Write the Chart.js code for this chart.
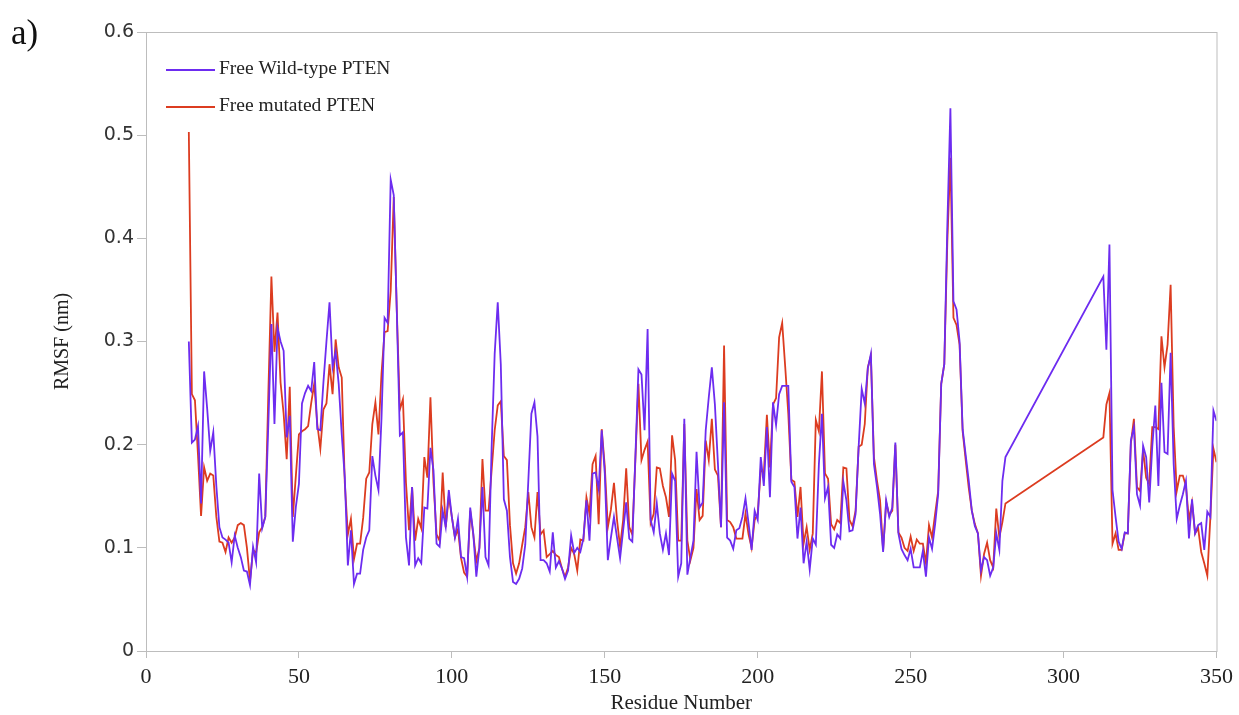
<!DOCTYPE html>
<html>
<head>
<meta charset="utf-8">
<title>RMSF per residue</title>
<script src="https://cdn.jsdelivr.net/npm/chart.js@4.4.1/dist/chart.umd.min.js"></script>
<style>
    html, body { margin: 0; padding: 0; background: #ffffff; }
    #rmsf-chart { display: block; }
</style>
</head>
<body>
<canvas id="rmsf-chart" width="1239" height="715"></canvas>
<script>
const CHART_ID = "rmsf-chart";

// Residues 282-312 have no coordinates, so the trace jumps from 281 to 313.
const FIRST_SEGMENT = [14, 281];
const SECOND_SEGMENT = [313, 350];

const X_TICKS = [0, 50, 100, 150, 200, 250, 300, 350];
const Y_TICKS = [0, 0.1, 0.2, 0.3, 0.4, 0.5, 0.6];

const SERIES_LABELS = ["Free Wild-type PTEN", "Free mutated PTEN"];
const SERIES_COLORS = ["#6d2cf0", "#dc3c20"];

// RMSF (nm), one value per residue in the order of the residue list
const wildType = [
    0.300, 0.202, 0.205, 0.218, 0.143, 0.271, 0.235, 0.194, 0.212, 0.160,
    0.120, 0.110, 0.108, 0.105, 0.086, 0.112, 0.100, 0.091, 0.078, 0.077,
    0.064, 0.101, 0.086, 0.172, 0.119, 0.130, 0.220, 0.317, 0.220, 0.313,
    0.300, 0.291, 0.207, 0.228, 0.106, 0.140, 0.162, 0.240, 0.250, 0.257,
    0.252, 0.280, 0.215, 0.214, 0.260, 0.300, 0.338, 0.275, 0.290, 0.259,
    0.210, 0.168, 0.083, 0.117, 0.065, 0.075, 0.075, 0.098, 0.110, 0.117,
    0.189, 0.170, 0.156, 0.226, 0.323, 0.318, 0.457, 0.442, 0.329, 0.209,
    0.212, 0.110, 0.083, 0.159, 0.083, 0.090, 0.085, 0.139, 0.138, 0.197,
    0.175, 0.104, 0.101, 0.136, 0.120, 0.156, 0.130, 0.110, 0.128, 0.091,
    0.090, 0.072, 0.139, 0.114, 0.072, 0.100, 0.159, 0.091, 0.083, 0.197,
    0.288, 0.338, 0.278, 0.147, 0.136, 0.091, 0.067, 0.065, 0.070, 0.080,
    0.103, 0.165, 0.230, 0.241, 0.208, 0.088, 0.088, 0.085, 0.077, 0.115,
    0.081, 0.087, 0.080, 0.070, 0.078, 0.112, 0.095, 0.100, 0.096, 0.109,
    0.146, 0.107, 0.172, 0.173, 0.157, 0.214, 0.172, 0.088, 0.110, 0.130,
    0.110, 0.090, 0.117, 0.144, 0.109, 0.106, 0.188, 0.273, 0.268, 0.214,
    0.312, 0.127, 0.115, 0.143, 0.114, 0.098, 0.114, 0.093, 0.172, 0.165,
    0.072, 0.085, 0.225, 0.074, 0.091, 0.107, 0.193, 0.139, 0.144, 0.214,
    0.246, 0.275, 0.239, 0.181, 0.120, 0.241, 0.110, 0.107, 0.099, 0.117,
    0.119, 0.130, 0.148, 0.124, 0.098, 0.136, 0.127, 0.188, 0.160, 0.217,
    0.149, 0.241, 0.219, 0.249, 0.257, 0.257, 0.257, 0.164, 0.159, 0.109,
    0.139, 0.085, 0.106, 0.079, 0.109, 0.103, 0.181, 0.230, 0.148, 0.159,
    0.103, 0.100, 0.113, 0.109, 0.164, 0.146, 0.116, 0.117, 0.133, 0.198,
    0.254, 0.240, 0.274, 0.288, 0.181, 0.159, 0.133, 0.096, 0.146, 0.130,
    0.139, 0.202, 0.114, 0.099, 0.093, 0.088, 0.099, 0.081, 0.081, 0.081,
    0.097, 0.072, 0.110, 0.099, 0.123, 0.152, 0.259, 0.278, 0.413, 0.526,
    0.339, 0.331, 0.300, 0.215, 0.190, 0.165, 0.136, 0.121, 0.114, 0.078,
    0.091, 0.088, 0.073, 0.081, 0.114, 0.098, 0.165, 0.188,
    0.363, 0.292, 0.394, 0.156, 0.130, 0.106, 0.099, 0.115, 0.114, 0.204,
    0.217, 0.152, 0.141, 0.199, 0.188, 0.144, 0.198, 0.238, 0.160, 0.260,
    0.193, 0.191, 0.289, 0.181, 0.128, 0.141, 0.152, 0.165, 0.109, 0.147,
    0.114, 0.122, 0.124, 0.098, 0.135, 0.130, 0.233, 0.223,
];

const mutated = [
    0.503, 0.249, 0.243, 0.190, 0.131, 0.178, 0.165, 0.172, 0.170, 0.130,
    0.106, 0.105, 0.096, 0.110, 0.105, 0.110, 0.122, 0.124, 0.122, 0.100,
    0.068, 0.098, 0.095, 0.115, 0.120, 0.130, 0.250, 0.363, 0.290, 0.328,
    0.260, 0.230, 0.186, 0.256, 0.130, 0.170, 0.210, 0.213, 0.215, 0.218,
    0.240, 0.259, 0.220, 0.196, 0.234, 0.240, 0.278, 0.249, 0.302, 0.275,
    0.265, 0.163, 0.113, 0.128, 0.089, 0.104, 0.104, 0.129, 0.167, 0.173,
    0.220, 0.241, 0.210, 0.269, 0.309, 0.310, 0.349, 0.440, 0.330, 0.234,
    0.244, 0.163, 0.117, 0.159, 0.107, 0.128, 0.119, 0.188, 0.168, 0.246,
    0.163, 0.113, 0.107, 0.173, 0.120, 0.150, 0.130, 0.110, 0.118, 0.090,
    0.076, 0.072, 0.136, 0.113, 0.087, 0.100, 0.186, 0.136, 0.136, 0.175,
    0.214, 0.238, 0.242, 0.189, 0.185, 0.122, 0.085, 0.075, 0.085, 0.103,
    0.120, 0.154, 0.120, 0.110, 0.154, 0.113, 0.117, 0.091, 0.094, 0.097,
    0.093, 0.091, 0.080, 0.072, 0.081, 0.100, 0.094, 0.078, 0.108, 0.107,
    0.149, 0.133, 0.181, 0.189, 0.123, 0.215, 0.179, 0.120, 0.137, 0.163,
    0.127, 0.101, 0.127, 0.177, 0.120, 0.113, 0.185, 0.259, 0.185, 0.195,
    0.203, 0.124, 0.133, 0.178, 0.177, 0.160, 0.149, 0.130, 0.209, 0.185,
    0.107, 0.107, 0.220, 0.107, 0.088, 0.100, 0.157, 0.127, 0.131, 0.204,
    0.185, 0.225, 0.176, 0.170, 0.120, 0.296, 0.127, 0.125, 0.120, 0.109,
    0.109, 0.109, 0.133, 0.113, 0.100, 0.127, 0.133, 0.176, 0.172, 0.229,
    0.178, 0.239, 0.245, 0.304, 0.318, 0.275, 0.230, 0.166, 0.164, 0.130,
    0.159, 0.104, 0.120, 0.098, 0.114, 0.224, 0.213, 0.271, 0.172, 0.167,
    0.123, 0.118, 0.127, 0.124, 0.178, 0.177, 0.127, 0.121, 0.136, 0.198,
    0.200, 0.220, 0.275, 0.286, 0.188, 0.165, 0.146, 0.098, 0.144, 0.132,
    0.136, 0.200, 0.115, 0.110, 0.100, 0.097, 0.111, 0.097, 0.108, 0.104,
    0.104, 0.085, 0.122, 0.110, 0.133, 0.155, 0.259, 0.278, 0.397, 0.478,
    0.323, 0.316, 0.297, 0.213, 0.185, 0.158, 0.136, 0.123, 0.114, 0.073,
    0.094, 0.105, 0.088, 0.081, 0.138, 0.110, 0.125, 0.143,
    0.207, 0.239, 0.250, 0.104, 0.114, 0.098, 0.098, 0.114, 0.114, 0.201,
    0.225, 0.159, 0.155, 0.195, 0.168, 0.162, 0.217, 0.217, 0.215, 0.305,
    0.275, 0.297, 0.355, 0.217, 0.155, 0.170, 0.170, 0.160, 0.127, 0.144,
    0.114, 0.119, 0.096, 0.085, 0.073, 0.130, 0.196, 0.183,
];

const AXIS_COLOR = "#bdbdbd";
const TEXT_COLOR = "#222222";
const SERIF = "'Liberation Serif', 'Times New Roman', serif";

function residueRange([from, to]) {
    const out = [];
    for (let r = from; r <= to; r += 1) out.push(r);
    return out;
}

const residues = residueRange(FIRST_SEGMENT).concat(residueRange(SECOND_SEGMENT));

function toPoints(values) {
    return residues.map((r, i) => ({ x: r, y: values[i] }));
}

// Grey box round the plot area (top and right edges are not drawn by the axes)
const framePlugin = {
    id: "frame",
    afterDraw(chart) {
        const { ctx, chartArea: a } = chart;
        ctx.save();
        ctx.strokeStyle = AXIS_COLOR;
        ctx.lineWidth = 1;
        ctx.strokeRect(a.left + 0.5, a.top + 0.5, a.right - a.left, a.bottom - a.top);
        ctx.restore();
    },
};

// Legend drawn inside the plot, stacked in the top-left corner
const insideLegendPlugin = {
    id: "insideLegend",
    afterDraw(chart) {
        const { ctx, chartArea: a } = chart;
        const x0 = a.left + 20;
        const rows = [a.top + 38, a.top + 75];
        ctx.save();
        ctx.font = `19.5px ${SERIF}`;
        ctx.textBaseline = "middle";
        chart.data.datasets.forEach((ds, i) => {
            const y = rows[i];
            ctx.strokeStyle = ds.borderColor;
            ctx.lineWidth = 1.8;
            ctx.beginPath();
            ctx.moveTo(x0, y);
            ctx.lineTo(x0 + 49, y);
            ctx.stroke();
            ctx.fillStyle = TEXT_COLOR;
            ctx.fillText(ds.label, x0 + 53, y - 1);
        });
        ctx.restore();
    },
};

const panelLabelPlugin = {
    id: "panelLabel",
    afterDraw(chart) {
        const { ctx } = chart;
        ctx.save();
        ctx.font = `35px ${SERIF}`;
        ctx.fillStyle = "#111111";
        ctx.textBaseline = "alphabetic";
        ctx.fillText("a)", 11, 44);
        ctx.restore();
    },
};

const whiteBackground = {
    id: "whiteBackground",
    beforeDraw(chart) {
        const { ctx, width, height } = chart;
        ctx.save();
        ctx.fillStyle = "#ffffff";
        ctx.fillRect(0, 0, width, height);
        ctx.restore();
    },
};

new Chart(document.getElementById(CHART_ID), {
    type: "line",
    data: {
        datasets: [
            {
                label: SERIES_LABELS[0],
                data: toPoints(wildType),
                borderColor: SERIES_COLORS[0],
                borderWidth: 1.8,
                pointRadius: 0,
                tension: 0,
            },
            {
                label: SERIES_LABELS[1],
                data: toPoints(mutated),
                borderColor: SERIES_COLORS[1],
                borderWidth: 1.8,
                pointRadius: 0,
                tension: 0,
            },
        ],
    },
    options: {
        responsive: false,
        animation: false,
        devicePixelRatio: 1,
        layout: { padding: { top: 32, right: 21, bottom: 0, left: 0 } },
        plugins: {
            legend: { display: false },
            tooltip: { enabled: false },
        },
        scales: {
            x: {
                type: "linear",
                min: X_TICKS[0],
                max: X_TICKS[X_TICKS.length - 1],
                afterBuildTicks: (scale) => {
                    scale.ticks = X_TICKS.map((v) => ({ value: v }));
                },
                afterFit: (scale) => {
                    scale.height = 64;
                },
                ticks: {
                    color: TEXT_COLOR,
                    font: { family: SERIF, size: 22 },
                    padding: 6,
                    maxRotation: 0,
                },
                grid: {
                    drawOnChartArea: false,
                    drawTicks: true,
                    tickLength: 7,
                    color: AXIS_COLOR,
                },
                border: { color: AXIS_COLOR },
                title: {
                    display: true,
                    text: "Residue Number",
                    color: TEXT_COLOR,
                    font: { family: SERIF, size: 21, lineHeight: 1 },
                    padding: { top: 0, bottom: 1 },
                },
            },
            y: {
                min: Y_TICKS[0],
                max: Y_TICKS[Y_TICKS.length - 1],
                afterBuildTicks: (scale) => {
                    scale.ticks = Y_TICKS.map((v) => ({ value: v }));
                },
                afterFit: (scale) => {
                    scale.width = 146;
                },
                ticks: {
                    color: "#333333",
                    font: { family: "'DejaVu Sans', sans-serif", size: 19 },
                    padding: 3,
                    callback: (value) => String(+Number(value).toFixed(1)),
                },
                grid: {
                    drawOnChartArea: false,
                    drawTicks: true,
                    tickLength: 9,
                    color: AXIS_COLOR,
                },
                border: { color: AXIS_COLOR },
                title: {
                    display: true,
                    text: "RMSF (nm)",
                    color: TEXT_COLOR,
                    font: { family: SERIF, size: 20, lineHeight: 1.2 },
                    padding: { top: 51, bottom: 0 },
                },
            },
        },
    },
    plugins: [whiteBackground, framePlugin, insideLegendPlugin, panelLabelPlugin],
});
</script>
</body>
</html>
